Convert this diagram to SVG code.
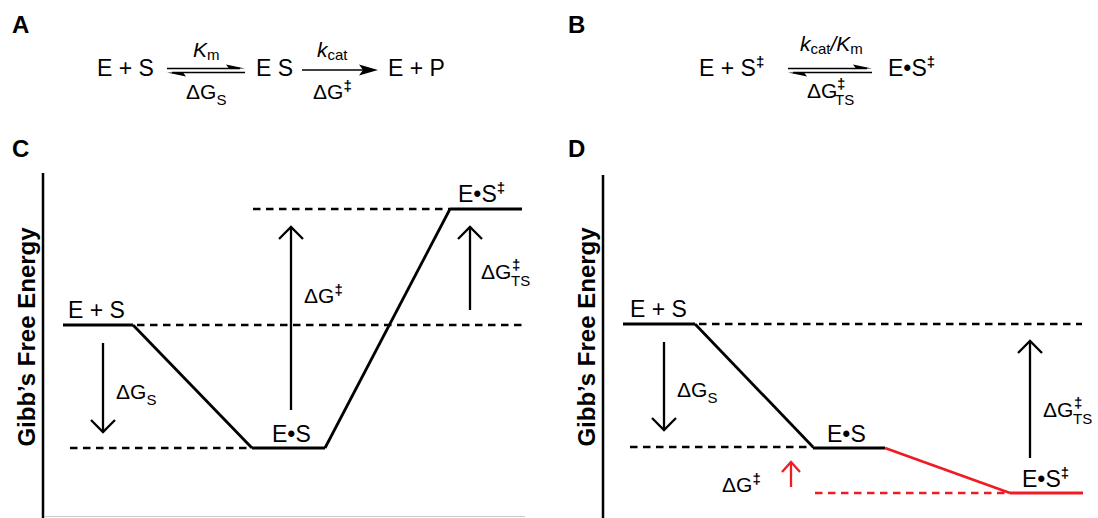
<svg xmlns="http://www.w3.org/2000/svg" width="1098" height="518" viewBox="0 0 1098 518">
<style>
text{font-family:"Liberation Sans",Arial,sans-serif;fill:#000}
.lg{font-size:23px}
.dg{font-size:21px}
.sb{font-size:15px}
.dd{font-size:15px;font-weight:bold}
.it{font-style:italic}
.pl{font-size:24px;font-weight:bold}
.ax{font-size:24px;font-weight:bold}
.lv{fill:none;stroke:#000;stroke-width:2.8}
.dash{fill:none;stroke:#000;stroke-width:2.5;stroke-dasharray:7.5 5.5}
.red{stroke:#ee1c25}
.thin{fill:none;stroke:#000;stroke-width:1.5}
.arr{fill:none;stroke:#000;stroke-width:2.3;marker-end:url(#chev)}
.arrR{fill:none;stroke:#ee1c25;stroke-width:2.3;marker-end:url(#chevR)}
</style>
<defs>
<marker id="chev" markerUnits="userSpaceOnUse" viewBox="-14 -14 16 28" refX="0" refY="0" markerWidth="16" markerHeight="28" orient="auto" overflow="visible">
<path d="M-12,-12 L0,0 L-12,12" fill="none" stroke="#000" stroke-width="2.3"/>
</marker>
<marker id="chevR" markerUnits="userSpaceOnUse" viewBox="-12 -12 14 24" refX="0" refY="0" markerWidth="14" markerHeight="24" orient="auto" overflow="visible">
<path d="M-10,-9 L0,0 L-10,9" fill="none" stroke="#ee1c25" stroke-width="2.3"/>
</marker>
</defs>
<rect width="1098" height="518" fill="#fff"/>

<!-- Panel labels -->
<text class="pl" x="12" y="33">A</text>
<text class="pl" x="568" y="33">B</text>
<text class="pl" x="12" y="157">C</text>
<text class="pl" x="568" y="157">D</text>

<!-- Panel A equation -->
<g id="eqA">
<text id="A-ES" class="lg" x="97" y="76">E + S</text>
<text id="A-Km" class="dg" x="193" y="57"><tspan class="it">K</tspan><tspan class="sb" dy="3">m</tspan></text>
<text id="A-dGs" class="dg" x="186" y="99">ΔG<tspan class="sb" dy="6">S</tspan></text>
<text id="A-EcS" class="lg" x="256" y="76">E S</text>
<text id="A-kcat" class="dg" x="317" y="57"><tspan class="it">k</tspan><tspan class="sb" dy="3">cat</tspan></text>
<text id="A-dG" class="dg" x="313" y="99">ΔG<tspan class="dd" dy="-8">‡</tspan></text>
<text id="A-EP" class="lg" x="388" y="76">E + P</text>
</g>
<g id="eqA-arrows">
<path class="thin" d="M167,68.5 H240"/>
<polygon points="245,68.5 226,64.5 229,68.5"/>
<path class="thin" d="M172,72.5 H245"/>
<polygon points="167,72.5 186,76.5 183,72.5"/>
<path class="thin" d="M302,70 H366"/>
<polygon points="378,70 359,64.5 363,70 359,75.5"/>
</g>

<!-- Panel B equation -->
<g id="eqB">
<text id="B-ES" class="lg" x="699" y="76">E + S<tspan class="dd" dy="-9">‡</tspan></text>
<text id="B-k" class="dg" x="800" y="51"><tspan class="it">k</tspan><tspan class="sb" dy="3">cat</tspan><tspan class="it" dy="-3">/K</tspan><tspan class="sb" dy="3">m</tspan></text>
<text id="B-dG" class="dg" x="807" y="98">ΔG</text>
<text class="dd" x="837" y="89">‡</text>
<text class="sb" x="835" y="105">TS</text>
<text id="B-ESd" class="lg" x="888" y="76">E•S<tspan class="dd" dy="-9">‡</tspan></text>
</g>
<g id="eqB-arrows">
<path class="thin" d="M788,68.5 H867"/>
<polygon points="872,68.5 853,64.5 856,68.5"/>
<path class="thin" d="M793,72.5 H872"/>
<polygon points="788,72.5 807,76.5 804,72.5"/>
</g>

<!-- Panel C -->
<g id="C-axes">
<path d="M43,173 V518" stroke="#000" stroke-width="2.5" fill="none"/>
<path d="M45,516.5 H525" stroke="#ccc" stroke-width="1" fill="none"/>
<text class="ax" text-anchor="middle" transform="translate(35,337) rotate(-90)">Gibb’s Free Energy</text>
</g>
<g id="C-ES">
<path class="lv" d="M63,325 H133"/>
<text class="lg" x="68" y="318">E + S</text>
</g>
<g id="C-EdotS">
<path class="lv" d="M252,448 H325"/>
<text class="lg" x="272" y="442">E•S</text>
</g>
<g id="C-TS">
<path class="lv" d="M450,209 H522"/>
<text class="lg" x="458" y="202">E•S<tspan class="dd" dy="-9">‡</tspan></text>
</g>
<g id="C-connectors">
<path class="dash" d="M137,325 H522"/>
<path class="dash" d="M70,448 H252"/>
<path class="dash" d="M253,209 H450"/>
<path class="lv" d="M133,325 L252,448"/>
<path class="lv" d="M325,448 L450,209"/>
<path class="arr" d="M103,343 V432"/>
<path class="arr" d="M291,410 V227"/>
<path class="arr" d="M470,310 V227"/>
</g>
<g id="C-labels">
<text class="dg" x="116" y="399">ΔG<tspan class="sb" dy="6">S</tspan></text>
<text class="dg" x="304" y="303">ΔG<tspan class="dd" dy="-8">‡</tspan></text>
<text class="dg" x="481" y="279">ΔG</text>
<text class="dd" x="512" y="270">‡</text>
<text class="sb" x="511" y="286">TS</text>
</g>

<!-- Panel D -->
<g id="D-axes">
<path d="M603,175 V518" stroke="#000" stroke-width="2.5" fill="none"/>
<text class="ax" text-anchor="middle" transform="translate(595,337) rotate(-90)">Gibb’s Free Energy</text>
</g>
<g id="D-ES">
<path class="lv" d="M623,324 H695"/>
<text class="lg" x="630" y="317">E + S</text>
</g>
<g id="D-EdotS">
<path class="lv" d="M813,448 H885"/>
<text class="lg" x="827" y="442">E•S</text>
</g>
<g id="D-TS">
<path class="lv red" d="M1010,493 H1083"/>
<text class="lg" x="1022" y="487">E•S<tspan class="dd" dy="-9">‡</tspan></text>
</g>
<g id="D-connectors">
<path class="dash" d="M699,324 H1082"/>
<path class="dash" d="M630,447 H813"/>
<path class="dash red" d="M815,493 H1010"/>
<path class="lv" d="M695,324 L813,447"/>
<path class="lv red" d="M885,448 L1010,493"/>
<path class="arr" d="M664,342 V430"/>
<path class="arrR" d="M791,487 V462"/>
<path class="arr" d="M1030,458 V341"/>
</g>
<g id="D-labels">
<text class="dg" x="677" y="397">ΔG<tspan class="sb" dy="6">S</tspan></text>
<text class="dg" x="722" y="492">ΔG<tspan class="dd" dy="-8">‡</tspan></text>
<text class="dg" x="1043" y="417">ΔG</text>
<text class="dd" x="1074" y="408">‡</text>
<text class="sb" x="1073" y="424">TS</text>
</g>
</svg>
